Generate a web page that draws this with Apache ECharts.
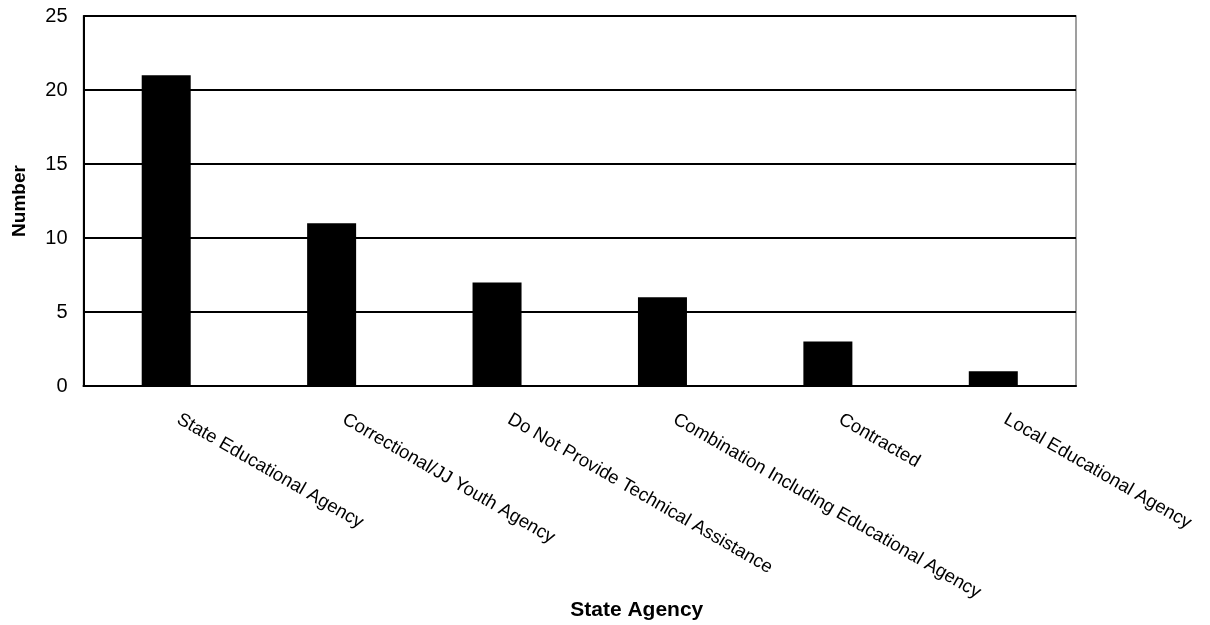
<!DOCTYPE html>
<html>
<head>
<meta charset="utf-8">
<script src="https://cdn.jsdelivr.net/npm/echarts@6/dist/echarts.min.js"></script>
<style>
  html, body { margin: 0; padding: 0; background: #fff; }
  #chart { width: 1210px; height: 625px; }
</style>
</head>
<body>
<div id="chart"></div>
<script>
// Agencies providing technical assistance, by type of state agency
const categories = [
  'State Educational Agency',
  'Correctional/JJ Youth Agency',
  'Do Not Provide Technical Assistance',
  'Combination Including Educational Agency',
  'Contracted',
  'Local Educational Agency'
];
const counts = [21, 11, 7, 6, 3, 1];
const yTicks = [0, 5, 10, 15, 20, 25];

const chart = echarts.init(document.getElementById('chart'), null, { renderer: 'canvas' });

const font = 'Arial, "Liberation Sans", Helvetica, sans-serif';

chart.setOption({
  animation: false,
  backgroundColor: '#ffffff',
  grid: {
    left: 83.5,
    right: 134,
    top: 16,
    bottom: 239,
    containLabel: false,
    outerBoundsMode: 'none',
    show: true,
    borderColor: '#808080',
    borderWidth: 1.5,
    backgroundColor: 'transparent'
  },
  xAxis: {
    type: 'category',
    data: categories,
    name: 'State Agency',
    nameLocation: 'middle',
    nameGap: 214,
    nameMoveOverlap: false,
    nameTextStyle: {
      fontFamily: font, fontSize: 21, fontWeight: 'bold', color: '#000',
      padding: [0, 0, 0, 114]
    },
    axisLine: { show: true, lineStyle: { color: '#000', width: 2 } },
    axisTick: { show: false },
    axisLabel: {
      interval: 0,
      rotate: -30,
      margin: 25,
      padding: [0, 0, 0, 14],
      fontFamily: font,
      fontSize: 18.5,
      color: '#000'
    }
  },
  yAxis: {
    type: 'value',
    min: yTicks[0],
    max: yTicks[yTicks.length - 1],
    interval: 5,
    name: 'Number',
    nameLocation: 'middle',
    nameGap: 54,
    nameMoveOverlap: false,
    nameTextStyle: { fontFamily: font, fontSize: 19, fontWeight: 'bold', color: '#000' },
    axisLine: { show: true, lineStyle: { color: '#000', width: 2 } },
    axisTick: { show: false },
    axisLabel: {
      margin: 16,
      fontFamily: font,
      fontSize: 20,
      color: '#000'
    },
    splitLine: { show: true, lineStyle: { color: '#000', width: 2 } }
  },
  series: [{
    type: 'bar',
    data: counts,
    barWidth: 49,
    itemStyle: { color: '#000' }
  }]
});
</script>
</body>
</html>
